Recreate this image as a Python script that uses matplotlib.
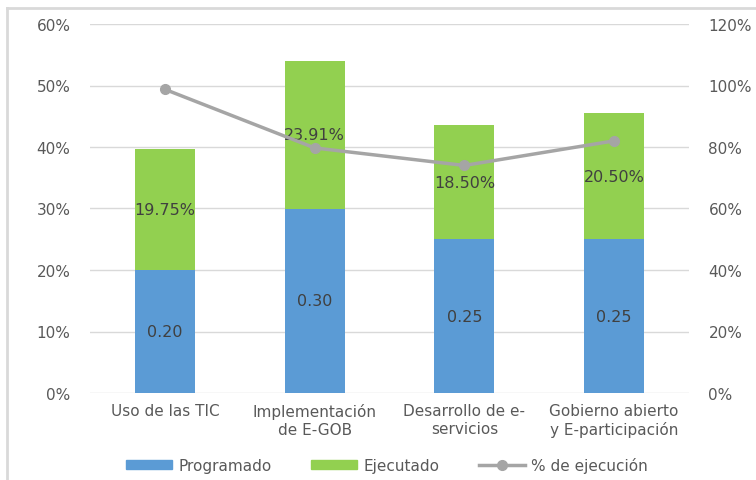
import matplotlib.pyplot as plt
from matplotlib.lines import Line2D
import numpy as np

categorias = ["Uso de las TIC", "Implementación\nde E-GOB", "Desarrollo de e-\nservicios",
              "Gobierno abierto\ny E-participación"]
programado = [0.20, 0.30, 0.25, 0.25]
ejecutado = [0.1975, 0.2391, 0.185, 0.205]
pct_ejecucion = [98.75, 79.70, 74.00, 82.00]

AZUL = '#5b9bd5'
VERDE = '#92d050'
GRIS = '#a5a5a5'
TEXTO = '#595959'

plt.rcParams['font.family'] = ['DejaVu Sans']

fig = plt.figure(figsize=(7.56, 4.81), dpi=100)
ax = fig.add_axes([90 / 756, 1 - 394 / 481, 599 / 756, 369 / 481])

x = np.arange(len(categorias))
ax.bar(x, programado, width=0.4, color=AZUL, zorder=2)
ax.bar(x, ejecutado, width=0.4, bottom=programado, color=VERDE, zorder=2)

for i in range(len(x)):
    ax.text(x[i], programado[i] / 2, f"{programado[i]:.2f}", ha='center', va='center',
            fontsize=11.5, color='#404040', zorder=5)
    ax.text(x[i], programado[i] + ejecutado[i] / 2, f"{ejecutado[i] * 100:.2f}%",
            ha='center', va='center', fontsize=11.5, color='#404040', zorder=5)

ax.set_xlim(-0.5, 3.5)
ax.set_ylim(0, 0.6)
ax.set_yticks(np.arange(0, 0.61, 0.1))
ax.set_yticklabels([f"{int(round(v * 100))}%" for v in np.arange(0, 0.61, 0.1)])
ax.set_xticks(x)
ax.set_xticklabels(categorias, linespacing=1.25)
ax.grid(axis='y', color='#d9d9d9', linewidth=1, zorder=0)
ax.set_axisbelow(True)
for s in ax.spines.values():
    s.set_visible(False)
ax.tick_params(axis='y', length=0, pad=14, labelsize=11, labelcolor=TEXTO)
ax.tick_params(axis='x', length=0, pad=7, labelsize=11, labelcolor=TEXTO)

ax2 = ax.twinx()
ax2.plot(x, pct_ejecucion, color=GRIS, linewidth=2.5, marker='o', markersize=7, zorder=3)
ax2.set_ylim(0, 120)
ax2.set_yticks(np.arange(0, 121, 20))
ax2.set_yticklabels([f"{v}%" for v in range(0, 121, 20)])
ax2.tick_params(axis='y', length=0, pad=14, labelsize=11, labelcolor=TEXTO)
for s in ax2.spines.values():
    s.set_visible(False)

handles = [plt.Rectangle((0, 0), 1, 1, color=AZUL),
           plt.Rectangle((0, 0), 1, 1, color=VERDE),
           Line2D([0], [0], color=GRIS, linewidth=2.5, marker='o', markersize=7)]
fig.legend(handles, ["Programado", "Ejecutado", "% de ejecución"], loc='center',
           bbox_to_anchor=(0.512, 1 - 466 / 481), ncol=3, frameon=False,
           fontsize=11, labelcolor=TEXTO, handlelength=3, handleheight=0.6,
           columnspacing=2.6, handletextpad=0.4)

# marco gris de la imagen
fig.add_artist(Line2D([7 / 756, 7 / 756], [0, 1 - 9 / 481], transform=fig.transFigure,
                      color='#d9d9d9', linewidth=2))
fig.add_artist(Line2D([7 / 756, 1], [1 - 9 / 481, 1 - 9 / 481], transform=fig.transFigure,
                      color='#d9d9d9', linewidth=2))

fig.savefig('out.png', dpi=100)
